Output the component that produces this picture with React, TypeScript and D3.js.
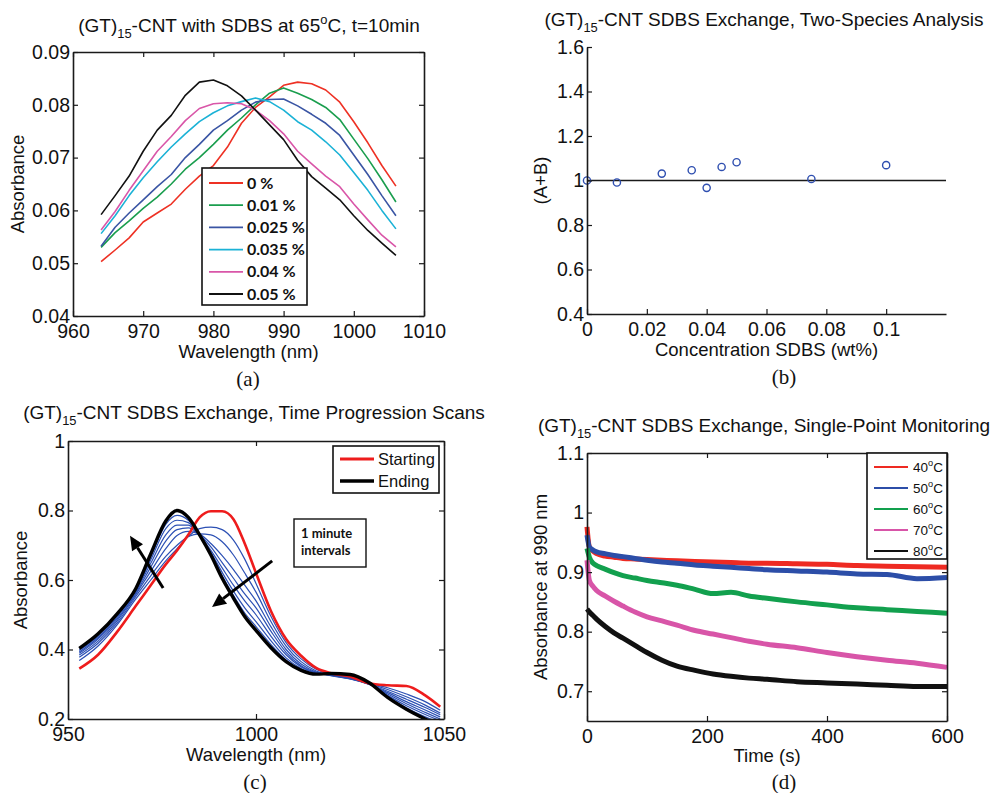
import React, { useEffect, useRef } from "react";
import * as d3 from "d3";

// ---- panel (a): spectra at 65C, t=10min ----
const aWavelength = [964, 966, 968, 970, 972, 974, 976, 978, 980, 982, 984, 986, 988, 990, 992, 994, 996, 998, 1000, 1002, 1004, 1006];
const aConc0 = [0.0503, 0.0525, 0.0548, 0.0578, 0.0595, 0.0612, 0.064, 0.0665, 0.0685, 0.072, 0.0765, 0.0795, 0.0815, 0.0837, 0.0843, 0.084, 0.0828, 0.0805, 0.0768, 0.0728, 0.0685, 0.0646];
const aConc001 = [0.053, 0.0558, 0.058, 0.0604, 0.0625, 0.065, 0.0678, 0.07, 0.0725, 0.0752, 0.0775, 0.08, 0.0822, 0.0832, 0.0822, 0.081, 0.0795, 0.0772, 0.0735, 0.0698, 0.0658, 0.0616];
const aConc0025 = [0.0532, 0.0568, 0.0595, 0.062, 0.0645, 0.0668, 0.07, 0.0725, 0.0752, 0.077, 0.079, 0.0805, 0.081, 0.0811, 0.0798, 0.0782, 0.0765, 0.0742, 0.0705, 0.0668, 0.0628, 0.059];
const aConc0035 = [0.0556, 0.059, 0.0628, 0.0662, 0.0692, 0.072, 0.0745, 0.0768, 0.0785, 0.0798, 0.0806, 0.0813, 0.0806, 0.079, 0.0768, 0.0752, 0.073, 0.0705, 0.0672, 0.0638, 0.06, 0.0565];
const aConc004 = [0.0563, 0.0598, 0.0638, 0.0675, 0.0712, 0.074, 0.077, 0.0793, 0.0802, 0.0804, 0.0802, 0.079, 0.077, 0.0745, 0.0712, 0.0688, 0.0665, 0.0645, 0.0612, 0.0582, 0.0553, 0.0531];
const aConc005 = [0.0592, 0.0628, 0.0665, 0.0712, 0.0752, 0.078, 0.0818, 0.0843, 0.0847, 0.0836, 0.0817, 0.079, 0.0762, 0.0734, 0.0695, 0.0664, 0.0642, 0.062, 0.059, 0.0562, 0.0538, 0.0515];
const aLabels = ["0 %", "0.01 %", "0.025 %", "0.035 %", "0.04 %", "0.05 %"];
const aColors = ["#ee3124", "#1a9e4e", "#3a55a4", "#1bb2d6", "#d956a8", "#111111"];
const aXTicks = [960, 970, 980, 990, 1000, 1010];
const aYTicks = [0.04, 0.05, 0.06, 0.07, 0.08, 0.09];

// ---- panel (b): two-species analysis ----
const bConc = [0, 0.01, 0.025, 0.035, 0.04, 0.045, 0.05, 0.075, 0.1];
const bSum = [1.0, 0.991, 1.031, 1.046, 0.967, 1.061, 1.082, 1.007, 1.069];
const bXTicks = [0, 0.02, 0.04, 0.06, 0.08, 0.1];
const bYTicks = [0.4, 0.6, 0.8, 1, 1.2, 1.4, 1.6];

// ---- panel (c): time progression scans ----
const cWavelength = [953, 958, 963, 968, 972, 976, 979, 982, 985, 988, 991, 994, 997, 1000, 1004, 1008, 1012, 1016, 1020, 1025, 1030, 1035, 1040, 1045, 1049];
const cStarting = [0.345, 0.385, 0.45, 0.525, 0.585, 0.645, 0.685, 0.73, 0.78, 0.798, 0.798, 0.775, 0.705, 0.62, 0.51, 0.43, 0.382, 0.347, 0.332, 0.322, 0.303, 0.297, 0.295, 0.268, 0.235];
const cMin1 = [0.368, 0.41, 0.47, 0.545, 0.6, 0.655, 0.69, 0.725, 0.748, 0.752, 0.745, 0.715, 0.66, 0.59, 0.495, 0.42, 0.373, 0.343, 0.328, 0.318, 0.303, 0.29, 0.272, 0.25, 0.225];
const cMin2 = [0.378, 0.418, 0.476, 0.552, 0.612, 0.668, 0.7, 0.725, 0.733, 0.73, 0.71, 0.672, 0.62, 0.565, 0.48, 0.41, 0.365, 0.338, 0.326, 0.316, 0.302, 0.285, 0.264, 0.24, 0.217];
const cMin3 = [0.384, 0.424, 0.482, 0.558, 0.625, 0.69, 0.728, 0.74, 0.732, 0.705, 0.67, 0.63, 0.585, 0.54, 0.465, 0.4, 0.358, 0.335, 0.325, 0.315, 0.3, 0.28, 0.257, 0.233, 0.212];
const cMin4 = [0.389, 0.43, 0.487, 0.562, 0.637, 0.712, 0.745, 0.75, 0.73, 0.695, 0.65, 0.605, 0.56, 0.52, 0.452, 0.392, 0.353, 0.333, 0.325, 0.316, 0.3, 0.276, 0.25, 0.226, 0.206];
const cMin5 = [0.393, 0.434, 0.492, 0.566, 0.648, 0.73, 0.758, 0.758, 0.728, 0.685, 0.635, 0.585, 0.54, 0.5, 0.438, 0.385, 0.35, 0.332, 0.327, 0.318, 0.3, 0.272, 0.244, 0.219, 0.2];
const cMin6 = [0.397, 0.438, 0.496, 0.569, 0.658, 0.748, 0.772, 0.765, 0.728, 0.68, 0.622, 0.568, 0.52, 0.48, 0.425, 0.376, 0.345, 0.33, 0.328, 0.321, 0.302, 0.268, 0.238, 0.213, 0.195];
const cMin7 = [0.4, 0.442, 0.499, 0.572, 0.667, 0.76, 0.786, 0.772, 0.729, 0.676, 0.612, 0.556, 0.505, 0.466, 0.414, 0.37, 0.342, 0.329, 0.329, 0.325, 0.304, 0.265, 0.232, 0.206, 0.19];
const cEnding = [0.403, 0.445, 0.502, 0.575, 0.675, 0.77, 0.8, 0.78, 0.73, 0.672, 0.605, 0.548, 0.495, 0.455, 0.405, 0.365, 0.34, 0.329, 0.331, 0.328, 0.305, 0.262, 0.228, 0.2, 0.18];
const cXTicks = [950, 1000, 1050];
const cYTicks = [0.2, 0.4, 0.6, 0.8, 1];

// ---- panel (d): single-point monitoring at 990 nm ----
const dTime = [0, 4, 10, 16, 30, 45, 60, 80, 100, 125, 150, 180, 210, 240, 270, 300, 350, 400, 450, 500, 550, 600];
const d40 = [0.976, 0.942, 0.935, 0.931, 0.927, 0.925, 0.923, 0.922, 0.921, 0.92, 0.919, 0.918, 0.917, 0.916, 0.915, 0.915, 0.914, 0.913, 0.911, 0.91, 0.909, 0.908];
const d50 = [0.962, 0.942, 0.937, 0.934, 0.931, 0.928, 0.926, 0.923, 0.92, 0.917, 0.915, 0.912, 0.91, 0.908, 0.906, 0.904, 0.902, 0.9, 0.897, 0.896, 0.889, 0.891];
const d60 = [0.94, 0.925, 0.915, 0.911, 0.905, 0.899, 0.894, 0.89, 0.886, 0.882, 0.878, 0.871, 0.864, 0.866, 0.86, 0.856, 0.85, 0.845, 0.84, 0.837, 0.834, 0.831];
const d70 = [0.92, 0.886, 0.876, 0.869, 0.86, 0.851, 0.843, 0.833, 0.825, 0.818, 0.811, 0.802, 0.796, 0.79, 0.784, 0.779, 0.773, 0.765, 0.758, 0.752, 0.747, 0.74];
const d80 = [0.838, 0.833, 0.827, 0.821, 0.809, 0.798, 0.789, 0.777, 0.765, 0.752, 0.742, 0.735, 0.729, 0.725, 0.722, 0.72, 0.716, 0.714, 0.712, 0.71, 0.708, 0.708];
const dLabels = ["40", "50", "60", "70", "80"];
const dColors = ["#ee2a22", "#2c4ea8", "#12a04e", "#d855a8", "#111111"];
const dXTicks = [0, 200, 400, 600];
const dYTicks = [0.7, 0.8, 0.9, 1, 1.1];

const SANS = "'Liberation Sans', Arial, Helvetica, sans-serif";
const SERIF = "'Liberation Serif', 'Times New Roman', serif";
const BOLD = "Lato, 'Open Sans', sans-serif";
const TICK = 19.5;
const LABEL = 18.5;
const TITLE = 19;

// text with sub/superscripts, segments: [text, 'n' | 'sub' | 'sup']
function richText(parent: any, x: number, y: number, segs: [string, string][], size: number, anchor = "middle") {
  const t = parent.append("text").attr("x", x).attr("y", y)
    .attr("text-anchor", anchor).style("font-family", SANS).style("font-size", size + "px").attr("fill", "#111");
  let cur = 0;
  segs.forEach(([s, kind]) => {
    const off = kind === "sub" ? size * 0.3 : kind === "sup" ? -size * 0.42 : 0;
    t.append("tspan").attr("dy", off - cur)
      .style("font-size", (kind === "n" ? size : size * 0.68) + "px").text(s);
    cur = off;
  });
  return t;
}

function drawAxes(g: any, x: any, y: any, xTicks: number[], yTicks: number[], fmtX: any, fmtY: any, boxed: boolean) {
  const [x0, x1] = x.range();
  const [y0, y1] = y.range();
  const style = (sel: any) => {
    sel.select(".domain").attr("stroke", "#1a1a1a").attr("stroke-width", 1.6);
    sel.selectAll(".tick line").attr("stroke", "#1a1a1a").attr("stroke-width", 1.2);
    sel.selectAll(".tick text").attr("fill", "#111").style("font-family", SANS).style("font-size", TICK + "px");
  };
  g.append("g").attr("transform", `translate(0,${y0})`)
    .call(d3.axisBottom(x).tickValues(xTicks).tickFormat(fmtX).tickSizeInner(-5).tickSizeOuter(0).tickPadding(8))
    .call(style);
  g.append("g").attr("transform", `translate(${x0},0)`)
    .call(d3.axisLeft(y).tickValues(yTicks).tickFormat(fmtY).tickSizeInner(-5).tickSizeOuter(0).tickPadding(3))
    .call(style);
  if (boxed) {
    g.append("g").attr("transform", `translate(0,${y1})`)
      .call(d3.axisTop(x).tickValues(xTicks).tickFormat(() => "").tickSizeInner(-5).tickSizeOuter(0))
      .call(style);
    g.append("g").attr("transform", `translate(${x1},0)`)
      .call(d3.axisRight(y).tickValues(yTicks).tickFormat(() => "").tickSizeInner(-5).tickSizeOuter(0))
      .call(style);
  }
}

function axisLabels(g: any, x: any, y: any, xLabel: string, yLabel: string, xOff: number, yOff: number) {
  const [x0, x1] = x.range();
  const [y0, y1] = y.range();
  g.append("text").attr("x", (x0 + x1) / 2).attr("y", y0 + xOff).attr("text-anchor", "middle")
    .style("font-family", SANS).style("font-size", LABEL + "px").attr("fill", "#111").text(xLabel);
  g.append("text").attr("transform", `translate(${x0 - yOff},${(y0 + y1) / 2}) rotate(-90)`)
    .attr("text-anchor", "middle").style("font-family", SANS).style("font-size", LABEL + "px").attr("fill", "#111").text(yLabel);
}

function caption(g: any, x: number, y: number, s: string) {
  g.append("text").attr("x", x).attr("y", y).attr("text-anchor", "middle")
    .style("font-family", SERIF).style("font-size", "21px").attr("fill", "#111").text(s);
}

const trim = (d: number) => String(+d.toFixed(3));

const App = () => {
  const ref = useRef<SVGSVGElement>(null);

  useEffect(() => {
    const svg = d3.select(ref.current);
    svg.selectAll("*").remove();

    // ===== (a) =====
    const ax = d3.scaleLinear().domain([960, 1010]).range([73, 424]);
    const ay = d3.scaleLinear().domain([0.04, 0.09]).range([316, 52]);
    const ga = svg.append("g");
    const aSeries = [aConc0, aConc001, aConc0025, aConc0035, aConc004, aConc005];
    const aLine = d3.line<number>().x((d, i) => ax(aWavelength[i])).y(d => ay(d));
    aSeries.forEach((s, k) => {
      ga.append("path").datum(s).attr("d", aLine).attr("fill", "none")
        .attr("stroke", aColors[k]).attr("stroke-width", 1.6).attr("stroke-linejoin", "round");
    });
    drawAxes(ga, ax, ay, aXTicks, aYTicks, (d: number) => String(d), (d: number) => d.toFixed(2), true);
    axisLabels(ga, ax, ay, "Wavelength (nm)", "Absorbance", 42, 49);
    richText(ga, 249, 32, [["(GT)", "n"], ["15", "sub"], ["-CNT with SDBS at 65", "n"], ["o", "sup"], ["C, t=10min", "n"]], TITLE);
    caption(ga, 248, 386, "(a)");
    // legend
    const la = ga.append("g");
    la.append("rect").attr("x", 202).attr("y", 168).attr("width", 105).attr("height", 137)
      .attr("fill", "#fff").attr("stroke", "#111").attr("stroke-width", 1.6);
    aLabels.forEach((lab, k) => {
      const yy = 183 + k * 22.2;
      la.append("line").attr("x1", 209).attr("x2", 243).attr("y1", yy).attr("y2", yy)
        .attr("stroke", aColors[k]).attr("stroke-width", 1.8);
      la.append("text").attr("x", 247).attr("y", yy + 5.5).style("font-family", BOLD).style("font-weight", 700)
        .style("font-size", "16px").attr("fill", "#111").text(lab);
    });

    // ===== (b) =====
    const bx = d3.scaleLinear().domain([0, 0.12]).range([587, 946]);
    const by = d3.scaleLinear().domain([0.4, 1.6]).range([314, 47]);
    const gb = svg.append("g");
    gb.append("line").attr("x1", bx(0)).attr("x2", bx(0.12)).attr("y1", by(1)).attr("y2", by(1))
      .attr("stroke", "#1a1a1a").attr("stroke-width", 1.6);
    gb.selectAll("circle").data(bConc).enter().append("circle")
      .attr("cx", d => bx(d)).attr("cy", (d, i) => by(bSum[i])).attr("r", 3.6)
      .attr("fill", "none").attr("stroke", "#2f4fb0").attr("stroke-width", 1.4);
    drawAxes(gb, bx, by, bXTicks, bYTicks, trim, trim, false);
    axisLabels(gb, bx, by, "Concentration SDBS (wt%)", "(A+B)", 42, 40);
    richText(gb, 764, 26, [["(GT)", "n"], ["15", "sub"], ["-CNT SDBS Exchange, Two-Species Analysis", "n"]], TITLE);
    caption(gb, 784, 384, "(b)");

    // ===== (c) =====
    const cx = d3.scaleLinear().domain([950, 1050]).range([68, 444]);
    const cy = d3.scaleLinear().domain([0.2, 1]).range([719, 441]);
    const gc = svg.append("g");
    gc.append("clipPath").attr("id", "clipC").append("rect")
      .attr("x", 68).attr("y", 441).attr("width", 376).attr("height", 278);
    const cLine = d3.line<number>().x((d, i) => cx(cWavelength[i])).y(d => cy(d)).curve(d3.curveMonotoneX);
    const plotC = gc.append("g").attr("clip-path", "url(#clipC)");
    [cMin1, cMin2, cMin3, cMin4, cMin5, cMin6, cMin7].forEach(s => {
      plotC.append("path").datum(s).attr("d", cLine).attr("fill", "none")
        .attr("stroke", "#2c50b4").attr("stroke-width", 1.2);
    });
    plotC.append("path").datum(cStarting).attr("d", cLine).attr("fill", "none")
      .attr("stroke", "#ee1c1c").attr("stroke-width", 2.6);
    plotC.append("path").datum(cEnding).attr("d", cLine).attr("fill", "none")
      .attr("stroke", "#000").attr("stroke-width", 3.4);
    drawAxes(gc, cx, cy, cXTicks, cYTicks, (d: number) => String(d), trim, true);
    axisLabels(gc, cx, cy, "Wavelength (nm)", "Absorbance", 42, 41);
    richText(gc, 254, 419, [["(GT)", "n"], ["15", "sub"], ["-CNT SDBS Exchange, Time Progression Scans", "n"]], TITLE);
    caption(gc, 255, 789, "(c)");
    // legend
    const lc = gc.append("g");
    lc.append("rect").attr("x", 333).attr("y", 446).attr("width", 106).attr("height", 47)
      .attr("fill", "#fff").attr("stroke", "#111").attr("stroke-width", 1.6);
    [["Starting", "#ee1c1c", 2.8], ["Ending", "#000", 3.6]].forEach(([lab, col, w]: any, k) => {
      const yy = 459 + k * 22;
      lc.append("line").attr("x1", 340).attr("x2", 374).attr("y1", yy).attr("y2", yy)
        .attr("stroke", col).attr("stroke-width", w);
      lc.append("text").attr("x", 378).attr("y", yy + 6).style("font-family", SANS)
        .style("font-size", "16.5px").attr("fill", "#111").text(lab);
    });
    // annotation
    gc.append("rect").attr("x", 294).attr("y", 519).attr("width", 72).attr("height", 48)
      .attr("fill", "#fff").attr("stroke", "#111").attr("stroke-width", 1.4);
    ["1 minute", "intervals"].forEach((s, k) => {
      gc.append("text").attr("x", 301).attr("y", 538 + k * 17).style("font-family", BOLD).style("font-weight", 700)
        .style("font-size", "13px").attr("fill", "#111").text(s);
    });
    const arrow = (x1: number, y1: number, x2: number, y2: number) => {
      const ang = Math.atan2(y2 - y1, x2 - x1);
      const L = 14, Wd = 6.5;
      const bxp = x2 - L * Math.cos(ang), byp = y2 - L * Math.sin(ang);
      gc.append("line").attr("x1", x1).attr("y1", y1).attr("x2", bxp).attr("y2", byp)
        .attr("stroke", "#000").attr("stroke-width", 3);
      gc.append("path").attr("d", `M${x2},${y2} L${bxp - Wd * Math.sin(ang)},${byp + Wd * Math.cos(ang)} L${bxp + Wd * Math.sin(ang)},${byp - Wd * Math.cos(ang)} Z`)
        .attr("fill", "#000");
    };
    arrow(cx(975.3), cy(0.577), cx(966.5), cy(0.727));
    arrow(cx(1004.3), cy(0.655), cx(988.3), cy(0.522));

    // ===== (d) =====
    const dx = d3.scaleLinear().domain([0, 600]).range([587, 947]);
    const dy = d3.scaleLinear().domain([0.65, 1.1]).range([721, 453]);
    const gd = svg.append("g");
    const dLine = d3.line<number>().x((d, i) => dx(dTime[i])).y(d => dy(d)).curve(d3.curveMonotoneX);
    [d40, d50, d60, d70, d80].forEach((s, k) => {
      gd.append("path").datum(s).attr("d", dLine).attr("fill", "none")
        .attr("stroke", dColors[k]).attr("stroke-width", 5).attr("stroke-linejoin", "round");
    });
    drawAxes(gd, dx, dy, dXTicks, dYTicks, (d: number) => String(d), trim, true);
    axisLabels(gd, dx, dy, "Time (s)", "Absorbance at 990 nm", 41, 40);
    richText(gd, 764, 432, [["(GT)", "n"], ["15", "sub"], ["-CNT SDBS Exchange, Single-Point Monitoring", "n"]], TITLE);
    caption(gd, 784, 789, "(d)");
    const ld = gd.append("g");
    ld.append("rect").attr("x", 867).attr("y", 453).attr("width", 80).attr("height", 106)
      .attr("fill", "#fff").attr("stroke", "#111").attr("stroke-width", 1.6);
    dLabels.forEach((lab, k) => {
      const yy = 467 + k * 21;
      ld.append("line").attr("x1", 874).attr("x2", 908).attr("y1", yy).attr("y2", yy)
        .attr("stroke", dColors[k]).attr("stroke-width", 1.8);
      richText(ld, 913, yy + 5, [[lab, "n"], ["o", "sup"], ["C", "n"]], 13.5, "start");
    });
  }, []);

  return (
    <svg ref={ref} width={992} height={793}
      style={{ position: "absolute", left: 0, top: 0, background: "#fff" }} />
  );
};

export default App;
